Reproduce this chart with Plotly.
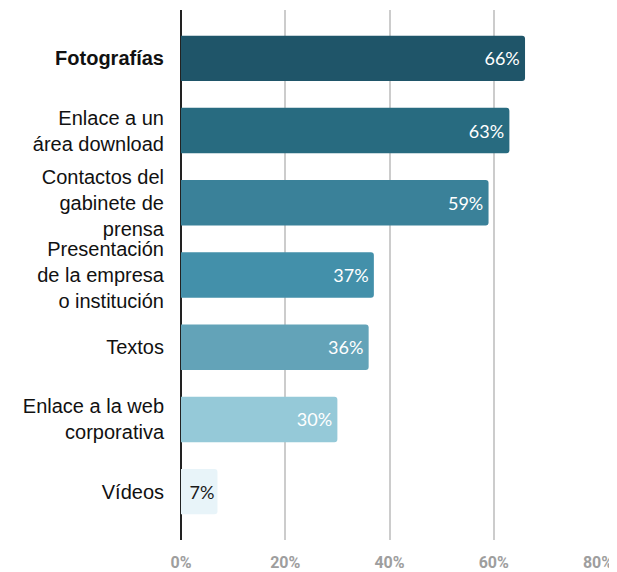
import plotly.graph_objects as go

categories = [
    "<b>Fotografías</b>",
    "Enlace a un<br>área download",
    "Contactos del<br>gabinete de<br>prensa",
    "Presentación<br>de la empresa<br>o institución",
    "Textos",
    "Enlace a la web<br>corporativa",
    "Vídeos",
]
values = [66, 63, 59, 37, 36, 30, 7]
bar_colors = ["#1f5569", "#286b80", "#3a8199", "#4390aa", "#63a3b8", "#95c9d8", "#e8f4f9"]
text_colors = ["white", "white", "white", "white", "white", "white", "#1a1a1a"]
tick_vals = [0, 20, 40, 60, 80]
tick_text = ["0%", "20%", "40%", "60%", "80%"]

fig = go.Figure(go.Bar(
    x=values,
    y=categories,
    orientation="h",
    marker=dict(color=bar_colors, cornerradius=3, line=dict(width=0)),
    text=[f"{v}%\u2009" if v > 10 else f"{v}%" for v in values],
    textposition="inside",
    insidetextanchor="end",
    textangle=0,
    textfont=dict(family="Lato", size=18, color=text_colors),
    cliponaxis=False,
))

# page body has an 8px margin, so the figure is sized/offset to compensate
fig.update_layout(
    width=609, height=564,
    margin=dict(l=173, r=19, t=2, b=32),
    paper_bgcolor="white", plot_bgcolor="white",
    bargap=0.37,
    showlegend=False,
    uniformtext=dict(mode=False),
)
fig.update_xaxes(
    range=[0, 80], tickvals=tick_vals, ticktext=tick_text,
    showgrid=True, gridcolor="#cccccc", gridwidth=1.5,
    zeroline=True, zerolinecolor="#222222", zerolinewidth=1.5,
    tickfont=dict(family="Roboto", size=16, color="#9e9e9e", weight="bold"),
    ticks="outside", ticklen=8, tickcolor="rgba(0,0,0,0)",
    showline=False, fixedrange=True, automargin=False,
)
fig.update_yaxes(
    autorange=False, range=[6.67, -0.67],
    tickfont=dict(family="Liberation Sans", size=20, color="#111111"),
    ticks="outside", ticklen=12, tickcolor="rgba(0,0,0,0)",
    showgrid=False, showline=False, automargin=False,
)

fig.write_html("out.html")
